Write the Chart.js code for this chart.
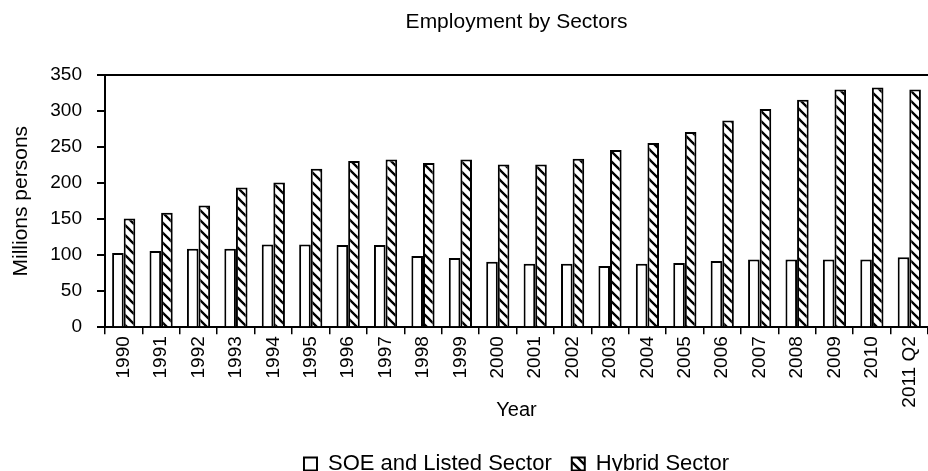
<!DOCTYPE html>
<html>
<head>
<meta charset="utf-8">
<title>Employment by Sectors</title>
<script src="https://cdn.jsdelivr.net/npm/chart.js@4.4.1/dist/chart.umd.min.js"></script>
<style>
  html, body { margin: 0; padding: 0; background: #fff; }
  #wrap { width: 928px; height: 471px; }
</style>
</head>
<body>
<div id="wrap"><canvas id="empChart" width="928" height="471"></canvas></div>
<script>
// employment, millions of persons
const years = ["1990","1991","1992","1993","1994","1995","1996","1997","1998","1999","2000",
  "2001","2002","2003","2004","2005","2006","2007","2008","2009","2010","2011 Q2"];
const soeListed = [103,106,109,109,115,115,114,114,99,96,91,88,88,85,88,89,92,94,94,94,94,97];
const hybrid = [151,159,169,194,201,220,231,233,228,233,226,226,234,246,256,271,287,303,316,330,333,330];
const yTicks = [0,50,100,150,200,250,300,350];

const FONT = "'Liberation Sans', Arial, sans-serif";

// diagonal hatch for the hybrid bars
function makeHatch() {
  const s = 10;
  const c = document.createElement("canvas");
  c.width = s; c.height = s;
  const g = c.getContext("2d");
  g.fillStyle = "#fff";
  g.fillRect(0, 0, s, s);
  g.strokeStyle = "#000";
  g.lineWidth = 2.3;
  g.beginPath();
  g.moveTo(-2, -2); g.lineTo(s + 2, s + 2);
  g.moveTo(-2, s - 2); g.lineTo(2, s + 2);
  g.moveTo(s - 2, -2); g.lineTo(s + 2, 2);
  g.stroke();
  return g.createPattern(c, "repeat");
}

const ctx = document.getElementById("empChart").getContext("2d");

new Chart(ctx, {
  type: "bar",
  data: {
    labels: years,
    datasets: [
      {
        label: "SOE and Listed Sector",
        data: soeListed,
        backgroundColor: "#fff",
        borderColor: "#000",
        borderWidth: 2
      },
      {
        label: "Hybrid Sector",
        data: hybrid,
        backgroundColor: makeHatch(),
        borderColor: "#000",
        borderWidth: 2
      }
    ]
  },
  options: {
    responsive: false,
    devicePixelRatio: 1,
    animation: false,
    layout: { padding: { left: 0, right: 0, top: 0, bottom: -14 } },
    datasets: { bar: { categoryPercentage: 0.62, barPercentage: 1.0 } },
    scales: {
      x: {
        grid: { drawOnChartArea: false, tickColor: "#000", tickLength: 7, lineWidth: 1.5 },
        border: { color: "#000", width: 2 },
        ticks: {
          color: "#000", font: { family: FONT, size: 19 },
          minRotation: 90, maxRotation: 90, autoSkip: false, padding: 2
        },
        title: {
          display: true, text: "Year", color: "#000",
          font: { family: FONT, size: 20 }, padding: { top: 0, bottom: 0 }
        },
        afterFit: (scale) => {
          scale.height = 95;
          // plot runs to the right edge
          scale.paddingLeft = 0;
          scale.paddingRight = 0;
        }
      },
      y: {
        min: 0, max: 350,
        afterBuildTicks: (scale) => { scale.ticks = yTicks.map(v => ({ value: v })); },
        grid: {
          color: (c) => (c.tick && c.tick.value === 350 ? "#000" : "rgba(0,0,0,0)"),
          tickColor: "#000", tickLength: 8, lineWidth: 2
        },
        border: { color: "#000", width: 2 },
        ticks: { color: "#000", font: { family: FONT, size: 19 }, padding: 15 },
        title: {
          display: true, text: "Millions persons", color: "#000",
          font: { family: FONT, size: 21 }, padding: { top: 9, bottom: 0 }
        },
        afterFit: (scale) => { scale.width = 105; }
      }
    },
    plugins: {
      title: {
        display: true, text: "Employment by Sectors", color: "#000",
        fullSize: false,
        font: { family: FONT, size: 21, weight: "normal" },
        padding: { top: 10, bottom: 40 }
      },
      legend: {
        position: "bottom",
        fullSize: false,
        title: { display: true, text: " ", font: { size: 9 }, padding: 0 },
        labels: {
          color: "#000", font: { family: FONT, size: 22 },
          boxWidth: 13, boxHeight: 13, padding: 20
        }
      },
      tooltip: { enabled: false }
    }
  }
});
</script>
</body>
</html>
